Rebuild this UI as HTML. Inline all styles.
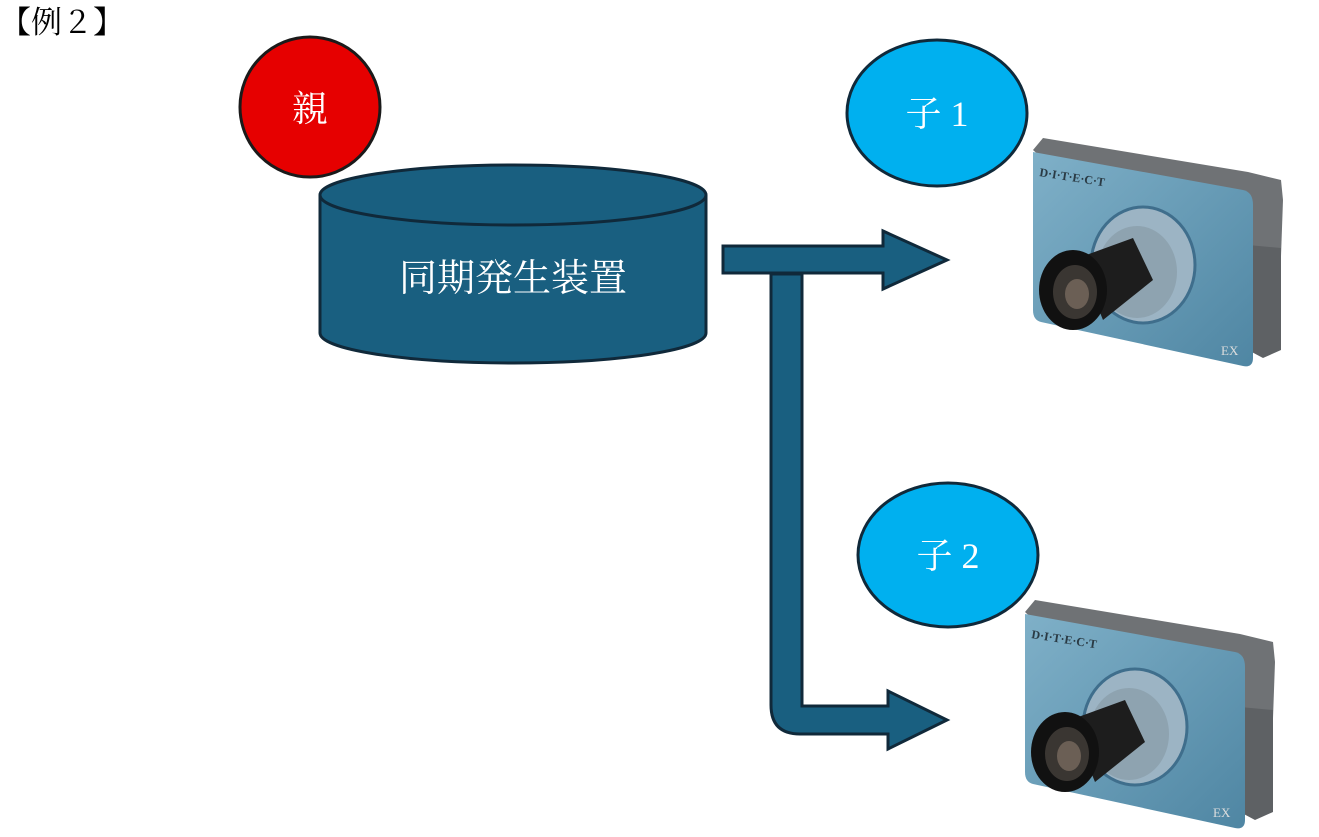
<!DOCTYPE html>
<html><head><meta charset="utf-8"><style>
html,body{margin:0;padding:0;background:#fff;}
svg{display:block;}
text{font-family:"Liberation Serif","Noto Serif CJK SC","Noto Sans CJK JP",serif;}
</style></head><body>
<svg width="1319" height="837" viewBox="0 0 1319 837">
<defs>
<linearGradient id="face" x1="0" y1="0" x2="1" y2="1">
<stop offset="0" stop-color="#7fb0c8"/><stop offset="1" stop-color="#4f86a3"/>
</linearGradient>
<g id="cam">
<polygon points="0,0 10,-12 215,22 248,30 250,50 245,190 230,200 215,195" fill="#6f7275"/>
<polygon points="215,95 248,98 248,200 230,208 215,200" fill="#5e6164"/>
<path d="M0,2 L210,40 Q220,42 220,55 L220,208 Q220,218 210,216 L8,172 Q0,170 0,160 Z" fill="url(#face)"/>
<text x="6" y="26" font-size="12" font-weight="bold" fill="#2a3a44" font-family="Liberation Sans,sans-serif" transform="rotate(9 6 26)">D·I·T·E·C·T</text>
<text x="188" y="205" font-size="13" fill="#ddd" font-family="Liberation Sans,sans-serif">EX</text>
<ellipse cx="110" cy="115" rx="52" ry="58" fill="#9cb4c4" stroke="#3f6e8c" stroke-width="3"/>
<ellipse cx="104" cy="122" rx="40" ry="46" fill="#8ea3b0"/>
<polygon points="45,108 100,88 120,130 70,170" fill="#1d1d1d"/>
<ellipse cx="40" cy="140" rx="34" ry="40" fill="#111"/>
<ellipse cx="42" cy="142" rx="22" ry="27" fill="#3a3632"/>
<ellipse cx="44" cy="144" rx="12" ry="15" fill="#6b5f55"/>
</g>
</defs>

<text x="0" y="33" font-size="31" fill="#000">【例２】</text>

<ellipse cx="310" cy="107" rx="70" ry="70" fill="#e60000" stroke="#1a1a1a" stroke-width="3"/>
<text x="310" y="121" font-size="36" fill="#fff" text-anchor="middle">親</text>

<path d="M320,195 L320,333 A193,30 0 0 0 706,333 L706,195" fill="#195f80" stroke="#10293a" stroke-width="3"/>
<ellipse cx="513" cy="195" rx="193" ry="30" fill="#195f80" stroke="#10293a" stroke-width="3"/>
<text x="513" y="291" font-size="38" fill="#fff" text-anchor="middle">同期発生装置</text>

<polygon points="723,246 883,246 883,231 947,260 883,289 883,273 723,273" fill="#195f80" stroke="#10293a" stroke-width="3" stroke-linejoin="miter"/>
<path d="M771,274 L802,274 L802,706 L888,706 L888,691 L947,720 L888,749 L888,734 L800,734 Q771,734 771,705 Z" fill="#195f80" stroke="#10293a" stroke-width="3"/>

<ellipse cx="937" cy="113" rx="90" ry="73" fill="#00b0ef" stroke="#10293a" stroke-width="3"/>
<text x="937" y="126" font-size="36" fill="#fff" text-anchor="middle">子 1</text>
<ellipse cx="948" cy="555" rx="90" ry="72" fill="#00b0ef" stroke="#10293a" stroke-width="3"/>
<text x="948" y="568" font-size="36" fill="#fff" text-anchor="middle">子 2</text>

<use href="#cam" x="1033" y="150"/>
<use href="#cam" x="1025" y="612"/>
</svg>
</body></html>
